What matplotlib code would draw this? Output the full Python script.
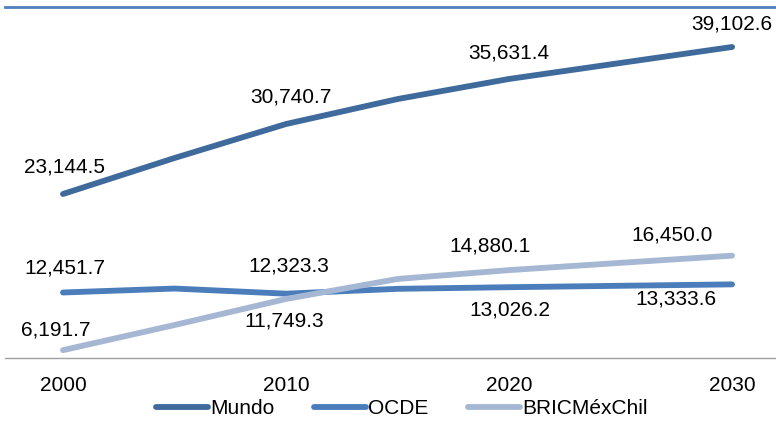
import matplotlib.pyplot as plt

plt.rcParams['font.family'] = ['Liberation Sans', 'DejaVu Sans']

years = [2000, 2005, 2010, 2015, 2020, 2025, 2030]
mundo = [23144.5, 27050, 30740.7, 33450, 35631.4, 37370, 39102.6]
ocde = [12451.7, 12880, 12323.3, 12850, 13026.2, 13180, 13333.6]
bric = [6191.7, 8920, 11749.3, 13920, 14880.1, 15670, 16450.0]

tick_years = [2000, 2010, 2020, 2030]

# label offsets in pixels (dx, dy) for the labelled years
mundo_off = [(2, 27), (5, 27), (0, 26), (0, 23)]
ocde_off = [(2, 24), (3, 28), (1, -23), (-56, -15)]
bric_off = [(-7, 20), (-2, -22), (-19, 24), (-60, 21)]

fig = plt.figure(figsize=(7.76, 4.21), dpi=100)
ax = fig.add_axes([5 / 776, 1 - 358 / 421, 771 / 776, 351 / 421])

series = [
    ('Mundo', mundo, '#3F6A9C', mundo_off),
    ('OCDE', ocde, '#4A7DBA', ocde_off),
    ('BRICMéxChil', bric, '#A6B7D4', bric_off),
]

for name, vals, col, offs in series:
    ax.plot(years, vals, color=col, lw=4.2, solid_capstyle='round', label=name)
    for k, yr in enumerate(tick_years):
        v = vals[years.index(yr)]
        dx, dy = offs[k]
        ax.annotate(f'{v:,.1f}', (yr, v), xytext=(dx * 0.72, dy * 0.72), textcoords='offset points',
                    ha='center', va='center', fontsize=15, color='black')

ax.set_xlim(1997.40, 2031.97)
ax.set_ylim(5341, 43444)
ax.set_xticks(tick_years)
ax.set_yticks([])
ax.tick_params(axis='x', length=0, pad=13, labelsize=15)

for s in ['left', 'right']:
    ax.spines[s].set_visible(False)
ax.spines['top'].set_color('#4F81BD')
ax.spines['top'].set_linewidth(2)
ax.spines['bottom'].set_color('#A0A0A0')
ax.spines['bottom'].set_linewidth(1)

leg = fig.legend(loc='center', bbox_to_anchor=(402 / 776, 1 - 409 / 421), ncol=3, frameon=False,
                 fontsize=15, handlelength=2.5, handletextpad=0.1, columnspacing=1.9,
                 borderaxespad=0, borderpad=0)

fig.savefig('out.png', dpi=100)
